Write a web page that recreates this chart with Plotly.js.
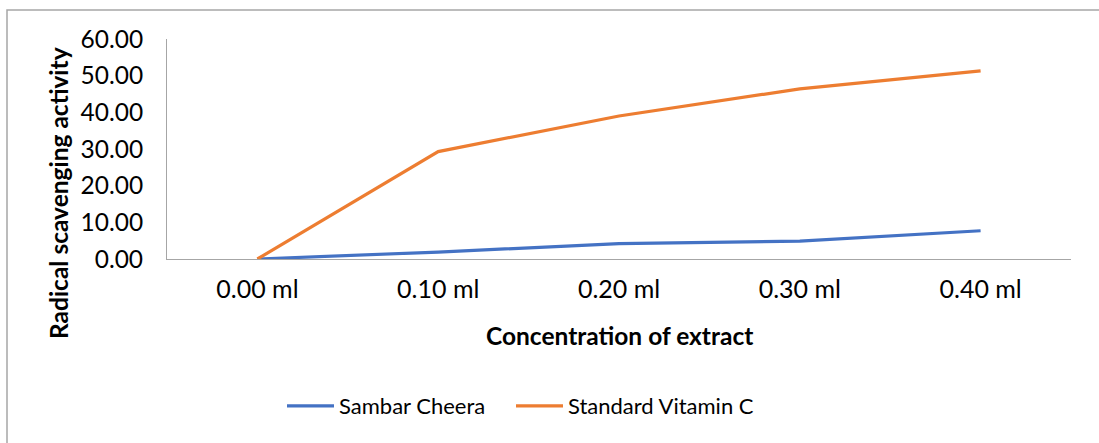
<!DOCTYPE html>
<html>
<head>
<meta charset="utf-8">
<script src="https://cdn.plot.ly/plotly-3.0.1.min.js"></script>
<style>html,body{margin:0;padding:0;background:#fff;}</style>
</head>
<body>
<div id="chart" style="width:1099px;height:443px;"></div>
<script>
const categories = ["0.00 ml", "0.10 ml", "0.20 ml", "0.30 ml", "0.40 ml"];
const sambarCheera = [0.00, 1.9, 4.2, 4.9, 7.7];
const vitaminC = [0.00, 29.3, 39.0, 46.4, 51.3];
const yTickVals = [0, 10, 20, 30, 40, 50, 60];
const yTickText = ["0.00", "10.00", "20.00", "30.00", "40.00", "50.00", "60.00"];
const seriesNames = ["Sambar Cheera", "Standard Vitamin C"];

const W = 1099, H = 443;
const L = 167, R = 1071, T = 39, B = 259;
const pw = R - L, ph = B - T;
const px = v => (v - L) / pw;
const py = v => (B - v) / ph;
const FONT = "Lato, Carlito, Calibri, sans-serif";

const traces = [
  {x: categories, y: sambarCheera, name: seriesNames[0], type: "scatter", mode: "lines",
   line: {color: "#4472C4", width: 3.2}, legend: "legend"},
  {x: categories, y: vitaminC, name: seriesNames[1], type: "scatter", mode: "lines",
   line: {color: "#ED7D31", width: 3.2}, legend: "legend2"}
];

function legendAt(xpx) {
  return {orientation: "h", x: px(xpx), xanchor: "left",
          y: py(406), yanchor: "middle", font: {family: FONT, size: 22, color: "#000"},
          itemwidth: 47, bgcolor: "rgba(0,0,0,0)"};
}

const layout = {
  width: W, height: H, autosize: false,
  margin: {l: L, r: W - R, t: T, b: H - B, autoexpand: false},
  paper_bgcolor: "#fff", plot_bgcolor: "#fff",
  font: {family: FONT, size: 24, color: "#000"},
  showlegend: true,
  legend: legendAt(282),
  legend2: legendAt(511),
  xaxis: {type: "category", range: [-0.5, 4.5], showgrid: false, zeroline: false,
          showline: true, linecolor: "#a6a6a6", linewidth: 1, ticks: "", tickangle: 0,
          automargin: false, ticklabelstandoff: 8,
          tickfont: {family: FONT, size: 25, color: "#000"}, fixedrange: true},
  yaxis: {range: [0, 60], tickvals: yTickVals, ticktext: yTickText, showgrid: false,
          zeroline: false, showline: true, linecolor: "#a6a6a6", linewidth: 1, ticks: "",
          automargin: false, ticklabelstandoff: 18,
          tickfont: {family: FONT, size: 24.5, color: "#000"}, fixedrange: true},
  annotations: [
    {text: "<b>Concentration of extract</b>", xref: "paper", yref: "paper",
     x: px(619), y: py(335), xanchor: "center", yanchor: "middle", showarrow: false,
     font: {family: FONT, size: 24.5, color: "#000"}},
    {text: "<b>Radical scavenging activity</b>", xref: "paper", yref: "paper",
     x: px(58), y: py(193), xanchor: "center", yanchor: "middle", showarrow: false,
     textangle: -90, font: {family: FONT, size: 24.5, color: "#000"}}
  ],
  shapes: [
    {type: "rect", xref: "paper", yref: "paper", x0: px(7), x1: px(1200), y0: py(600), y1: py(10),
     line: {color: "#a6a6a6", width: 1.5}, fillcolor: "rgba(0,0,0,0)", layer: "below"}
  ]
};

Plotly.newPlot("chart", traces, layout, {displayModeBar: false, staticPlot: true});
</script>
</body>
</html>
